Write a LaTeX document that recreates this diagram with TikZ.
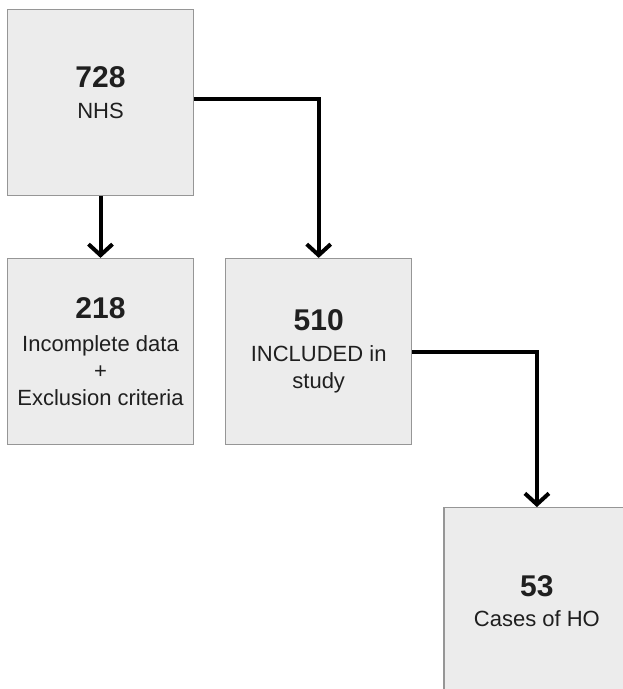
\documentclass[tikz,border=0pt]{standalone}
\usepackage{fontspec}
\setmainfont{Liberation Sans}
\usepackage{xcolor}
\usetikzlibrary{arrows.meta,positioning}

\definecolor{boxfill}{RGB}{236,236,236}
\definecolor{boxline}{RGB}{150,150,150}

\tikzset{
  flowbox/.style={draw=boxline, fill=boxfill, line width=1.2pt,
    minimum width=186pt, minimum height=186pt, inner sep=0pt,
    align=center, font=\fontsize{22}{27}\selectfont, text=black!88},
  boxtext/.style={align=center, font=\fontsize{22}{27}\selectfont, text=black!88},
  flowarrow/.style={line width=4pt,
    -{Straight Barb[length=11pt,width=24pt,line width=4pt]}}
}
\newcommand{\bignum}[1]{{\fontsize{30}{31}\selectfont\bfseries #1}}

\begin{document}
\begin{tikzpicture}[x=1pt,y=-1pt]
		\useasboundingbox (0,0) rectangle (623,689);
		\clip (0,0) rectangle (623,689);

		% Boxes
		\node[flowbox] (nhs) at (100.5,102.3) {};
		\node[boxtext] (nhs-txt) at ([yshift=10pt]nhs.center) {\bignum{728}\\[4pt]NHS};
		\node[flowbox, below=62pt of nhs] (excl)
			{\bignum{218}\\[6pt]Incomplete data\\+\\Exclusion criteria};
		\node[flowbox, right=31pt of excl] (incl)
			{\bignum{510}\\[4pt]INCLUDED in\\study};
		\node[flowbox, below right=62pt and 31pt of incl] (ho)
			{\bignum{53}\\[3pt]Cases of HO};

		% Arrows
		\draw[flowarrow] (nhs) -- (excl);
		\draw[flowarrow] ([yshift=3pt]nhs.east) -| (incl.north);
		\draw[flowarrow] (incl.east) -| (ho.north);

	\end{tikzpicture}
\end{document}
